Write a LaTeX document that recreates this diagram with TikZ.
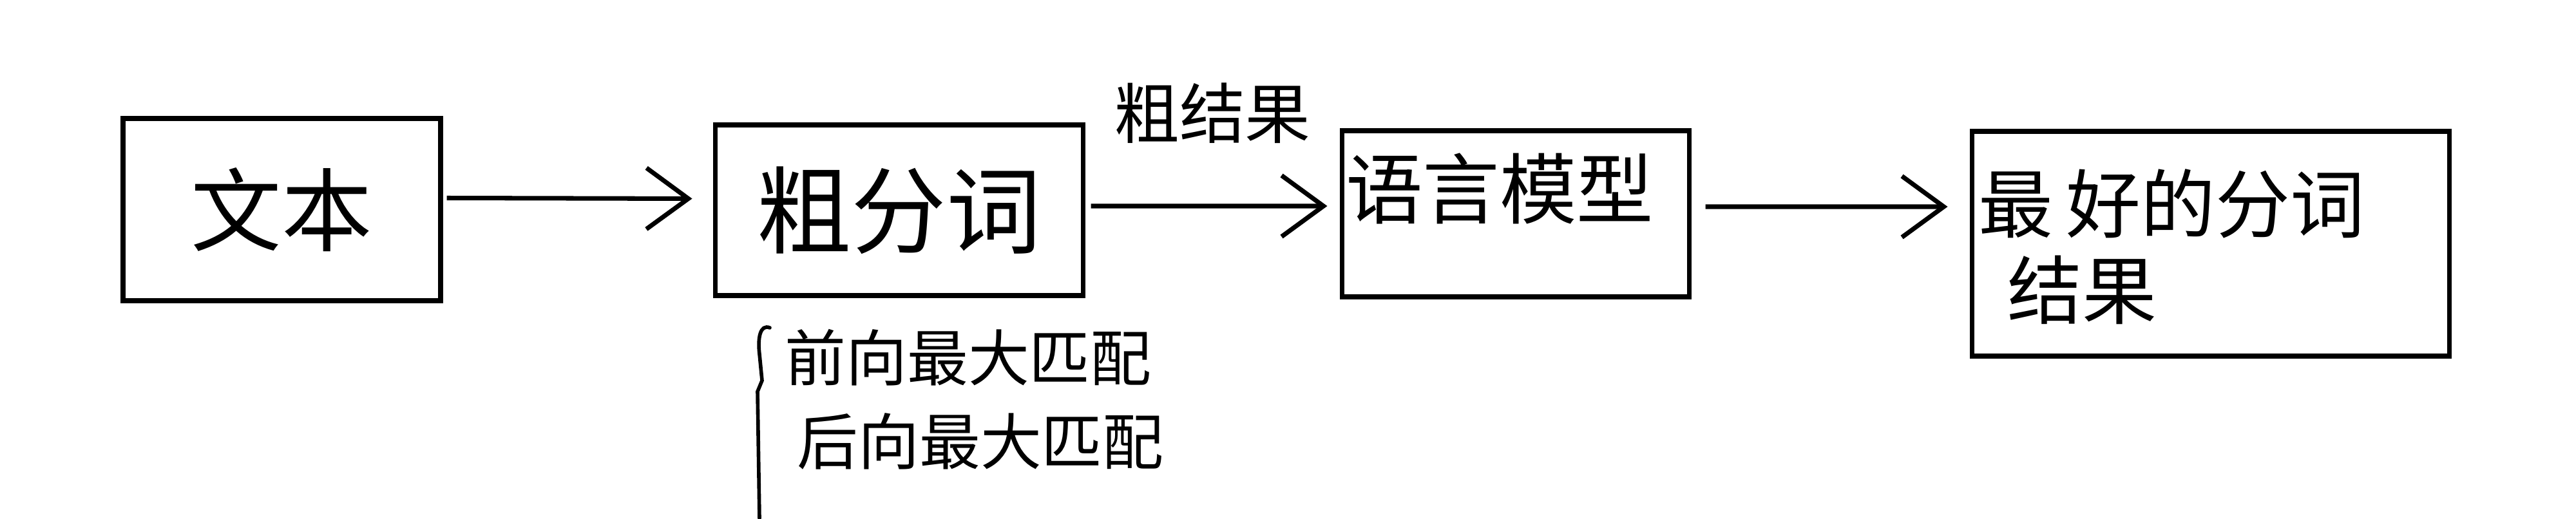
\documentclass[tikz,border=0pt]{standalone}
\usepackage{fontspec}
\newfontfamily\cjk{Noto Sans CJK SC}
\usetikzlibrary{arrows.meta}
\begin{document}
\begin{tikzpicture}[
  box/.style={draw, line width=2pt, inner sep=0pt},
  arr/.style={line width=2pt, -{Straight Barb[length=6.5mm,width=9.5mm]}},
  hand/.style={font=\cjk\fontsize{#1}{#1}\selectfont, inner sep=0pt}
]
\useasboundingbox (0,0) rectangle (39.99,8.05);
% boxes
\node[box, hand=40, minimum width=4.93cm, minimum height=2.83cm] (wenben) at (4.375,4.795) {文本};
\node[box, hand=42, minimum width=5.71cm, minimum height=2.65cm] (cufen) at (13.955,4.785) {粗分词};
\node[box, minimum width=5.39cm, minimum height=2.58cm] (yuyan) at (23.525,4.73) {};
\node[hand=34] (yuyantext) at (23.28,5.12) {语言模型};
\node[box, minimum width=7.41cm, minimum height=3.49cm] (zuihao) at (34.315,4.265) {};
\node[font=\cjk\fontsize{33}{38}\selectfont, inner sep=0pt, align=left, anchor=north west] (zuihaotext) at (30.71,5.43) {最\hspace{0.2cm}好的分词\\\hspace{0.45cm}结果};
% arrows
\draw[arr] ([xshift=0.6mm,yshift=1.8mm]wenben.east) -- ([xshift=-3.2mm,yshift=1.8mm]cufen.west);
\draw[arr] ([xshift=0.9mm,yshift=0.65mm]cufen.east) -- ([xshift=-1.9mm,yshift=1.2mm]yuyan.west);
\node[hand=29] (cujieguo) at (18.82,6.29) {粗结果};
\draw[arr] ([xshift=2.2mm,yshift=1.1mm]yuyan.east) -- ([xshift=-3.4mm,yshift=5.75mm]zuihao.west);
% matching notes
\draw[line width=1.6pt, line cap=round] (11.95,2.96) .. controls (11.80,3.02) and (11.76,2.8) .. (11.79,2.55) -- (11.83,2.14) -- (11.76,1.97) -- (11.79,0);
\node[hand=27] (qianxiang) at (15.03,2.50) {前向最大匹配};
\node[hand=27] (houxiang) at (15.22,1.20) {后向最大匹配};
\end{tikzpicture}
\end{document}
